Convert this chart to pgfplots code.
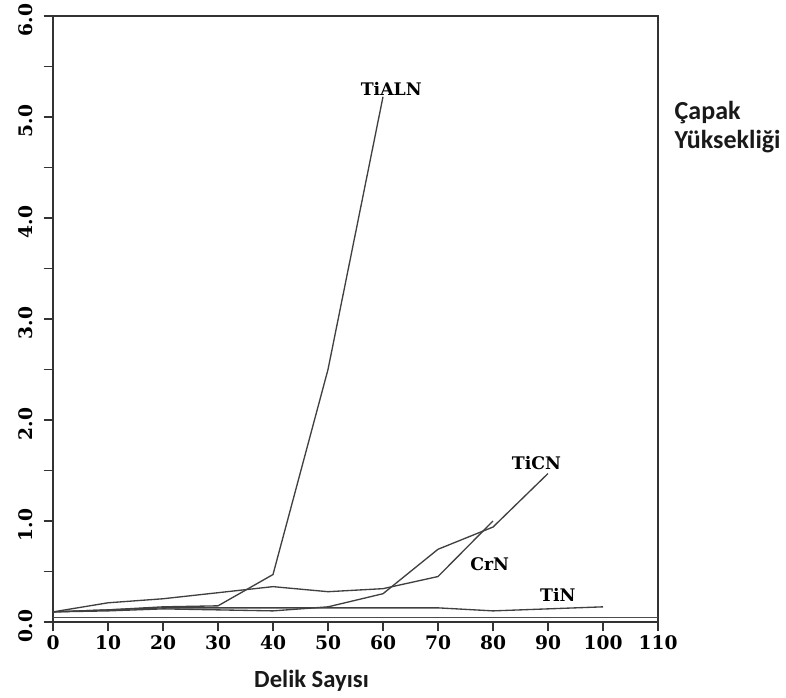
\documentclass[border=0pt]{standalone}
\usepackage{fontspec}
\setmainfont{DejaVu Serif}
\newfontfamily\calibri{Carlito}
\usepackage{pgfplots}
\pgfplotsset{compat=1.18}
\begin{document}
\begin{tikzpicture}
\path[use as bounding box] (-39.75pt,-57pt) rectangle (549.75pt,466.5pt);
\begin{axis}[
  at={(0,0)}, anchor=south west,
  scale only axis, width=453.75pt, height=454.5pt,
  xmin=0, xmax=110, ymin=0, ymax=6,
  xtick={0,10,...,110}, ytick={0,1,...,6}, minor ytick={0.5,1.5,...,5.5},
  xtick pos=bottom, ytick pos=left,
  tick align=outside, major tick length=7pt, minor tick length=7pt,
  tick style={black!80, line width=1pt},
  axis line style={black!80, line width=1.1pt},
  ticklabel style={font=\bfseries\fontsize{14}{14}\selectfont},
  /pgf/number format/assume math mode=true,
  yticklabel style={xshift=-5pt, yshift=-3pt, rotate=90, anchor=south, /pgf/number format/.cd, fixed, fixed zerofill, precision=1},
  xticklabel style={/pgf/number format/.cd, fixed, precision=0},
  clip=false,
]
% TiALN
\addplot[black!75, line width=1pt, mark=none] coordinates {(0,0.10) (10,0.12) (20,0.15) (30,0.16) (40,0.47) (50,2.50) (60,5.20)};
% CrN
\addplot[black!75, line width=1pt, mark=none] coordinates {(0,0.10) (10,0.19) (20,0.23) (30,0.29) (40,0.35) (50,0.30) (60,0.33) (70,0.45) (80,1.00)};
% TiCN
\addplot[black!75, line width=1pt, mark=none] coordinates {(0,0.10) (10,0.11) (20,0.13) (30,0.12) (40,0.11) (50,0.15) (60,0.28) (70,0.72) (80,0.94) (90,1.47)};
% TiN
\addplot[black!75, line width=1pt, mark=none] coordinates {(0,0.10) (10,0.12) (20,0.14) (30,0.14) (40,0.14) (50,0.14) (60,0.14) (70,0.14) (80,0.11) (90,0.13) (100,0.15)};
\draw[black!70, line width=0.8pt] (axis cs:0,0.04) -- (axis cs:110,0.04);
\node[font=\bfseries\fontsize{13}{13}\selectfont] at (axis cs:61.5,5.28) {TiALN};
\node[font=\bfseries\fontsize{13}{13}\selectfont] at (axis cs:87.9,1.57) {TiCN};
\node[font=\bfseries\fontsize{13}{13}\selectfont] at (axis cs:79.4,0.57) {CrN};
\node[font=\bfseries\fontsize{13}{13}\selectfont] at (axis cs:91.8,0.27) {TiN};
\node[font=\calibri\bfseries\fontsize{18.5}{18.5}\selectfont, text=black!90, yshift=-44pt] at (axis cs:47,0) {Delik Sayısı};
\node[font=\calibri\bfseries\fontsize{19.5}{22}\selectfont, text=black!90, anchor=west, align=left, xshift=9pt] at (axis cs:110,4.9) {Çapak\\Yüksekliği};
\end{axis}
\end{tikzpicture}
\end{document}
